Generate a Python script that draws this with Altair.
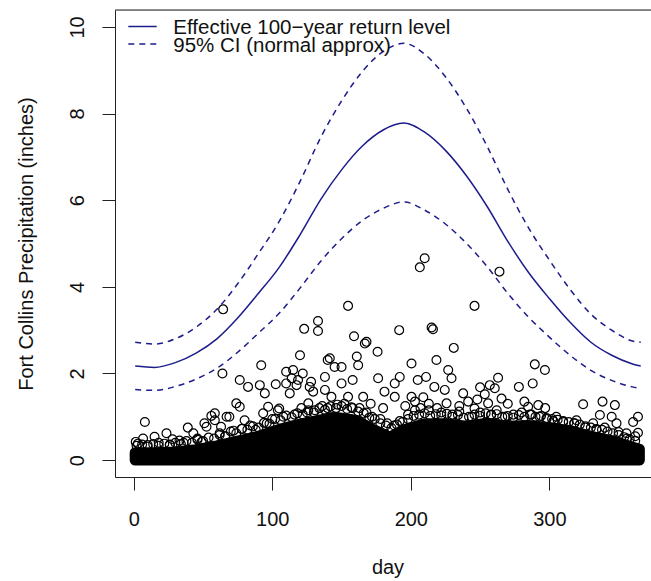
import altair as alt
import pandas as pd

# ---- return-level curves ----
curve_day = [1, 15, 30, 45, 60, 75, 90, 105, 120, 135, 150, 165, 180, 195,
             210, 225, 240, 255, 270, 285, 300, 315, 330, 345, 360, 366]
return_level = [2.17, 2.14, 2.25, 2.47, 2.80, 3.28, 3.85, 4.45, 5.20, 6.02, 6.70, 7.25, 7.62, 7.78,
                7.57, 7.15, 6.57, 5.86, 5.05, 4.33, 3.73, 3.18, 2.72, 2.42, 2.22, 2.17]
ci_upper = [2.72, 2.68, 2.80, 3.07, 3.48, 4.07, 4.77, 5.51, 6.43, 7.45, 8.29, 8.97, 9.43, 9.62,
            9.37, 8.85, 8.13, 7.25, 6.25, 5.36, 4.62, 3.94, 3.37, 3.00, 2.75, 2.72]
ci_lower = [1.63, 1.61, 1.70, 1.87, 2.12, 2.49, 2.93, 3.39, 3.97, 4.59, 5.11, 5.53, 5.81, 5.96,
            5.77, 5.45, 5.01, 4.47, 3.85, 3.30, 2.84, 2.42, 2.07, 1.84, 1.69, 1.65]

# ---- dense band of daily values (upper edge of the solid black mass) ----
band_day = [1, 15, 30, 45, 60, 75, 90, 105, 120, 135, 145, 160, 172, 185, 195,
            210, 225, 240, 255, 270, 285, 300, 315, 330, 345, 358, 365]
band_top = [0.17, 0.17, 0.19, 0.24, 0.33, 0.44, 0.55, 0.71, 0.83, 0.93, 0.99, 0.92, 0.72, 0.53, 0.70,
            0.84, 0.84, 0.78, 0.85, 0.78, 0.80, 0.75, 0.68, 0.55, 0.45, 0.32, 0.25]

# ---- circles along the ragged top of the dense band ----
edge_day = [2, 6, 10, 14, 18, 22, 26, 30, 34, 38, 42, 46, 50, 54, 58, 62, 66, 70, 74, 78, 82, 86,
            90, 94, 98, 102, 106, 110, 114, 118, 122, 126, 130, 134, 138, 142, 146, 150, 154, 158,
            162, 166, 170, 174, 178, 182, 186, 190, 194, 198, 202, 206, 210, 214, 218, 222, 226,
            230, 234, 238, 242, 246, 250, 254, 258, 262, 266, 270, 274, 278, 282, 286, 290, 294,
            298, 302, 306, 310, 314, 318, 322, 326, 330, 334, 338, 342, 346, 350, 354, 358, 362]
edge_precip = [0.33, 0.36, 0.31, 0.37, 0.33, 0.38, 0.35, 0.40, 0.37, 0.44, 0.40, 0.47, 0.44, 0.52,
               0.50, 0.58, 0.55, 0.66, 0.62, 0.72, 0.70, 0.78, 0.75, 0.86, 0.84, 0.95, 0.92, 1.03,
               0.99, 1.08, 1.05, 1.15, 1.10, 1.20, 1.16, 1.24, 1.20, 1.25, 1.18, 1.20, 1.12, 1.08,
               0.98, 0.95, 0.85, 0.80, 0.74, 0.82, 0.88, 0.95, 1.02, 1.05, 1.08, 1.02, 1.06, 1.03,
               1.07, 1.00, 1.04, 0.98, 1.00, 1.05, 1.02, 1.08, 1.04, 1.06, 1.00, 1.02, 0.98, 1.04,
               1.00, 1.05, 1.00, 1.02, 0.97, 0.95, 0.93, 0.90, 0.88, 0.85, 0.82, 0.78, 0.75, 0.72,
               0.70, 0.66, 0.62, 0.58, 0.53, 0.48, 0.44]

# ---- individual visible observations ----
obs_day = [1.4, 6.7, 8, 15, 23.6, 28, 39, 43, 52.5, 51, 56, 58.5, 58.5, 63, 64.5, 64, 67, 69,
           74, 76.5, 76.5, 80, 82.5, 91, 92, 93.4, 94.6, 97, 102.5, 104, 105, 110, 110, 114,
           112.6, 115, 117.5, 118.6, 120, 122, 123, 133, 133, 126, 127, 128, 129.5, 130.7,
           138, 138, 140, 141.5, 142.7, 145,
           150, 150, 154.7, 154.7, 158, 159, 161, 162, 165.6, 166.8, 168, 176, 176.4, 181,
           188.4, 188.4, 191.6, 192, 200.5, 200.5, 205, 206.5, 210, 211, 215, 216, 217, 218.5,
           224.5, 225.8, 227, 229.4, 231, 237.8, 241.4, 246, 246, 250, 253.4, 255.8, 257,
           260.6, 263, 264, 265.5, 278, 284.7, 288, 289.5, 292, 296.8, 305,
           319.6, 324.4, 331.6, 336.5, 338.4, 345, 347.3, 348.5, 355.7, 360.5, 364, 364,
           171, 180, 196, 203, 209, 213, 235, 248, 270, 282, 297,
           3, 10, 18, 26, 33, 36, 46, 49, 62, 66, 72, 78, 84, 88, 96, 100, 108, 116, 121, 125,
           136, 140, 147, 152, 157, 163, 168, 172, 178, 183, 188, 192, 198, 203, 207, 213, 219,
           222, 230, 235, 244, 250, 258, 262, 268, 274, 280, 287, 293, 298, 303, 310, 318, 326,
           334, 340, 350, 356, 362]
obs_precip = [0.42, 0.50, 0.88, 0.54, 0.62, 0.48, 0.75, 0.62, 0.77, 0.85, 1.02, 1.08, 0.92, 0.77,
              3.48, 2.00, 1.00, 1.00, 1.31, 1.23, 1.85, 0.92, 1.69, 1.73, 2.19, 1.08, 1.54, 1.23,
              1.75, 1.15, 1.19, 2.04, 1.77, 1.89, 1.54, 2.08, 1.73, 1.85, 2.42, 2.00, 3.03, 3.21,
              2.98, 1.31, 1.69, 1.81, 1.58, 1.15, 1.92, 1.62, 2.31, 2.35, 1.46, 2.15,
              2.15, 1.77, 3.56, 1.46, 1.85, 2.86, 2.39, 2.19, 1.46, 2.69, 2.73, 2.50, 1.89, 1.58,
              1.77, 1.46, 3.00, 1.92, 2.23, 1.46, 1.85, 4.45, 4.66, 1.92, 3.06, 3.02, 1.69, 2.31,
              1.62, 1.31, 2.08, 1.89, 2.59, 1.54, 1.35, 3.56, 1.19, 1.68, 1.52, 1.31, 1.73,
              1.66, 1.90, 4.35, 1.42, 1.69, 1.23, 1.77, 2.21, 1.27, 2.08, 1.00,
              0.92, 1.29, 0.85, 1.04, 1.35, 1.00, 1.27, 0.85, 0.62, 0.88, 1.00, 0.63,
              1.30, 1.20, 1.25, 1.35, 1.45, 1.30, 1.25, 1.40, 1.30, 1.35, 1.20,
              0.38, 0.35, 0.40, 0.36, 0.45, 0.40, 0.50, 0.42, 0.62, 0.55, 0.68, 0.72, 0.80, 0.70,
              0.85, 0.95, 1.00, 1.05, 1.20, 1.10, 1.25, 1.20, 1.28, 1.30, 1.22, 1.20, 1.10, 1.00,
              0.95, 0.85, 0.80, 0.90, 1.05, 1.15, 1.20, 1.15, 1.20, 1.10, 1.05, 1.12, 1.00, 1.10,
              1.05, 1.15, 1.00, 1.05, 1.10, 1.05, 1.00, 0.95, 0.90, 0.88, 0.85, 0.75, 0.70, 0.75,
              0.65, 0.50, 0.55]

x_ticks = [0, 100, 200, 300]
y_ticks = [0, 2, 4, 6, 8, 10]
legend_labels = ["Effective 100\u2212year return level", "95% CI (normal approx)"]

FONT = "Liberation Sans"
LINE = "#1c1c8c"
W, H = 536, 467

curves = pd.DataFrame({"day": curve_day, "rl": return_level, "up": ci_upper, "lo": ci_lower})
band = pd.DataFrame({"day": band_day, "top": band_top, "bottom": [0.0] * len(band_day)})
obs = pd.DataFrame({"day": obs_day + edge_day, "precip": obs_precip + edge_precip})
one = pd.DataFrame({"k": [0]})

xs = alt.Scale(domain=[-13.56, 373.4], nice=False, zero=False)
ys = alt.Scale(domain=[-0.39, 10.39], nice=False, zero=False)

x_axis = alt.Axis(values=x_ticks, format="d", title="day", grid=False,
                  labelFont=FONT, labelFontSize=20, labelColor="#111",
                  labelBaseline="alphabetic", labelPadding=35, labelFlush=False,
                  tickSize=13, tickColor="#222", domainColor="#222",
                  titleFont=FONT, titleFontSize=20, titleFontWeight="normal", titleColor="#111",
                  titleX=272.5, titleY=96, titleBaseline="alphabetic", titleAlign="center")
y_axis = alt.Axis(values=y_ticks, format="d", title="Fort Collins Precipitation (inches)", grid=False,
                  labelFont=FONT, labelFontSize=20, labelColor="#111", labelAngle=270,
                  labelAlign="center", labelBaseline="alphabetic", labelPadding=19, labelFlush=False,
                  tickSize=13, tickColor="#222", domainColor="#222",
                  titleFont=FONT, titleFontSize=20, titleFontWeight="normal", titleColor="#111",
                  titleAngle=270, titleX=-83, titleY=233.5, titleBaseline="alphabetic", titleAlign="center")

band_layer = alt.Chart(band).mark_area(color="black", stroke="black", strokeWidth=11,
                                       strokeJoin="round", strokeCap="round").encode(
    x=alt.X("day:Q", scale=xs, axis=x_axis),
    y=alt.Y("top:Q", scale=ys, axis=y_axis),
    y2="bottom:Q",
)

pts = alt.Chart(obs).mark_point(shape="circle", filled=False, color="black", size=78,
                                strokeWidth=1.2, opacity=1).encode(
    x=alt.X("day:Q", scale=xs), y=alt.Y("precip:Q", scale=ys))

solid = alt.Chart(curves).mark_line(color=LINE, strokeWidth=1.5, interpolate="monotone").encode(
    x=alt.X("day:Q", scale=xs), y=alt.Y("rl:Q", scale=ys))
upl = alt.Chart(curves).mark_line(color=LINE, strokeWidth=1.5, strokeDash=[6, 5],
                                  interpolate="monotone").encode(
    x=alt.X("day:Q", scale=xs), y=alt.Y("up:Q", scale=ys))
lol = alt.Chart(curves).mark_line(color=LINE, strokeWidth=1.5, strokeDash=[6, 5],
                                  interpolate="monotone").encode(
    x=alt.X("day:Q", scale=xs), y=alt.Y("lo:Q", scale=ys))

top_box = alt.Chart(one).mark_rule(color="#222", strokeWidth=1.2).encode(
    x=alt.value(0), x2=alt.value(W), y=alt.value(0))

leg1 = alt.Chart(one).mark_rule(color=LINE, strokeWidth=1.5).encode(
    x=alt.value(13.3), x2=alt.value(41.7), y=alt.value(16.5))
leg2 = alt.Chart(one).mark_rule(color=LINE, strokeWidth=1.5, strokeDash=[6, 5]).encode(
    x=alt.value(13.3), x2=alt.value(41.7), y=alt.value(34))
legt1 = alt.Chart(one).mark_text(align="left", baseline="alphabetic", font=FONT, fontSize=20.5,
                                 color="#111").encode(
    x=alt.value(58.3), y=alt.value(24), text=alt.value(legend_labels[0]))
legt2 = alt.Chart(one).mark_text(align="left", baseline="alphabetic", font=FONT, fontSize=20.5,
                                 color="#111").encode(
    x=alt.value(58.3), y=alt.value(41.5), text=alt.value(legend_labels[1]))

chart = alt.layer(band_layer, pts, solid, upl, lol, top_box, leg1, leg2, legt1, legt2).properties(
    width=W, height=H,
    padding={"left": 115, "top": 10, "right": 0, "bottom": 104},
    autosize=alt.AutoSizeParams(type="none"),
).configure_view(stroke=None).configure(background="white")

chart.save("out.html", embed_options={"renderer": "svg", "actions": False})
